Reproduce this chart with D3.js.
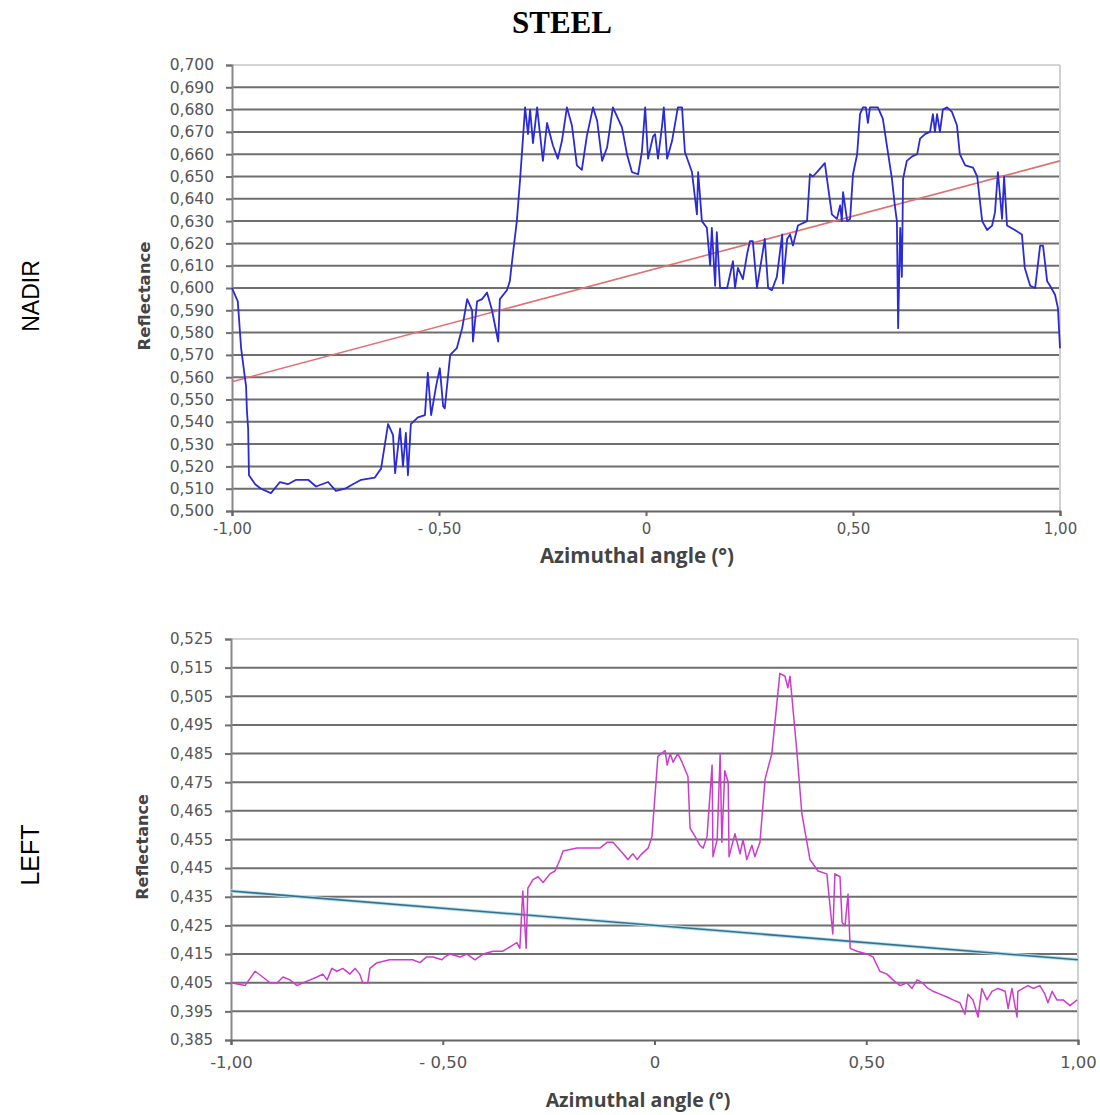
<!DOCTYPE html>
<html>
<head>
<meta charset="utf-8">
<script src="https://cdn.jsdelivr.net/npm/d3@7"></script>
<style>
  body { margin: 0; background: #fff; }
  svg { display: block; }
</style>
</head>
<body>
<svg id="chart" width="1100" height="1115"></svg>
<script>
// NADIR series: [azimuthal angle, reflectance]
const nadirSeries = [
  [-1.000,0.600],[-0.986,0.594],[-0.978,0.573],[-0.969,0.560],[-0.966,0.556],[-0.964,0.545],[-0.961,0.537],[-0.959,0.516],
  [-0.944,0.512],[-0.930,0.510],[-0.906,0.508],[-0.884,0.513],[-0.865,0.512],[-0.845,0.514],[-0.816,0.514],[-0.797,0.511],
  [-0.768,0.513],[-0.749,0.509],[-0.727,0.510],[-0.708,0.512],[-0.688,0.514],[-0.655,0.515],[-0.640,0.519],[-0.623,0.539],
  [-0.611,0.534],[-0.606,0.517],[-0.594,0.537],[-0.587,0.520],[-0.580,0.535],[-0.575,0.516],[-0.568,0.539],[-0.551,0.542],
  [-0.534,0.543],[-0.527,0.562],[-0.519,0.543],[-0.507,0.556],[-0.498,0.564],[-0.490,0.547],[-0.486,0.546],[-0.473,0.570],
  [-0.457,0.573],[-0.444,0.582],[-0.432,0.595],[-0.420,0.590],[-0.418,0.576],[-0.408,0.594],[-0.396,0.595],[-0.384,0.598],
  [-0.372,0.590],[-0.357,0.576],[-0.353,0.595],[-0.336,0.599],[-0.329,0.603],[-0.321,0.616],[-0.312,0.630],[-0.304,0.649],
  [-0.292,0.681],[-0.285,0.669],[-0.280,0.680],[-0.273,0.665],[-0.263,0.681],[-0.256,0.669],[-0.249,0.657],[-0.239,0.674],
  [-0.225,0.664],[-0.213,0.658],[-0.203,0.666],[-0.191,0.681],[-0.179,0.673],[-0.167,0.655],[-0.155,0.653],[-0.143,0.668],
  [-0.128,0.681],[-0.118,0.675],[-0.106,0.657],[-0.094,0.663],[-0.080,0.681],[-0.058,0.672],[-0.046,0.660],[-0.034,0.652],
  [-0.019,0.651],[-0.010,0.661],[-0.002,0.681],[0.005,0.658],[0.017,0.668],[0.022,0.669],[0.029,0.658],[0.039,0.673],
  [0.043,0.681],[0.051,0.658],[0.063,0.666],[0.077,0.681],[0.087,0.681],[0.094,0.661],[0.111,0.652],[0.123,0.633],
  [0.126,0.652],[0.135,0.630],[0.147,0.627],[0.155,0.610],[0.159,0.627],[0.167,0.601],[0.171,0.625],[0.179,0.600],
  [0.196,0.600],[0.210,0.612],[0.215,0.600],[0.222,0.609],[0.234,0.604],[0.244,0.615],[0.251,0.621],[0.258,0.621],
  [0.268,0.600],[0.287,0.622],[0.295,0.600],[0.304,0.599],[0.316,0.605],[0.329,0.624],[0.331,0.602],[0.341,0.622],
  [0.348,0.624],[0.355,0.619],[0.367,0.628],[0.389,0.630],[0.396,0.651],[0.403,0.650],[0.413,0.652],[0.432,0.656],
  [0.440,0.645],[0.449,0.633],[0.461,0.631],[0.469,0.637],[0.473,0.630],[0.476,0.643],[0.486,0.630],[0.493,0.631],
  [0.500,0.651],[0.510,0.660],[0.517,0.678],[0.524,0.681],[0.531,0.681],[0.536,0.674],[0.541,0.681],[0.560,0.681],
  [0.572,0.676],[0.585,0.660],[0.594,0.649],[0.601,0.637],[0.606,0.630],[0.609,0.582],[0.614,0.627],[0.618,0.605],
  [0.621,0.649],[0.630,0.657],[0.643,0.659],[0.655,0.660],[0.662,0.667],[0.674,0.669],[0.686,0.670],[0.693,0.678],
  [0.698,0.670],[0.703,0.678],[0.710,0.670],[0.717,0.680],[0.727,0.681],[0.739,0.679],[0.751,0.673],[0.758,0.660],
  [0.771,0.655],[0.790,0.654],[0.800,0.650],[0.812,0.630],[0.824,0.626],[0.836,0.628],[0.843,0.634],[0.850,0.652],
  [0.860,0.631],[0.865,0.650],[0.872,0.628],[0.891,0.626],[0.908,0.624],[0.915,0.609],[0.928,0.601],[0.940,0.600],
  [0.952,0.619],[0.959,0.619],[0.969,0.603],[0.976,0.601],[0.988,0.597],[0.995,0.591],[1.000,0.573]
];
const nadirTrend = [[-1.0, 0.558], [1.0, 0.657]];

// LEFT series: [azimuthal angle, reflectance]
const leftSeries = [
  [-1.000,0.405],[-0.967,0.404],[-0.943,0.409],[-0.925,0.407],[-0.908,0.405],[-0.891,0.405],[-0.877,0.407],[-0.861,0.406],
  [-0.844,0.404],[-0.830,0.405],[-0.813,0.406],[-0.797,0.407],[-0.783,0.408],[-0.773,0.406],[-0.762,0.410],[-0.750,0.409],
  [-0.736,0.410],[-0.719,0.408],[-0.707,0.410],[-0.696,0.408],[-0.689,0.405],[-0.677,0.405],[-0.672,0.410],[-0.655,0.412],
  [-0.625,0.413],[-0.594,0.413],[-0.571,0.413],[-0.554,0.412],[-0.538,0.414],[-0.523,0.414],[-0.502,0.413],[-0.495,0.414],
  [-0.483,0.415],[-0.459,0.414],[-0.443,0.415],[-0.424,0.413],[-0.405,0.415],[-0.381,0.416],[-0.358,0.416],[-0.325,0.419],
  [-0.318,0.417],[-0.311,0.437],[-0.303,0.417],[-0.299,0.438],[-0.287,0.441],[-0.275,0.442],[-0.263,0.440],[-0.247,0.443],
  [-0.235,0.444],[-0.223,0.448],[-0.216,0.451],[-0.183,0.452],[-0.152,0.452],[-0.129,0.452],[-0.112,0.454],[-0.098,0.454],
  [-0.086,0.452],[-0.074,0.450],[-0.063,0.448],[-0.051,0.450],[-0.041,0.448],[-0.030,0.450],[-0.015,0.452],[-0.006,0.456],
  [0.001,0.470],[0.008,0.484],[0.025,0.486],[0.030,0.481],[0.037,0.485],[0.044,0.482],[0.055,0.485],[0.065,0.482],
  [0.079,0.477],[0.084,0.459],[0.096,0.456],[0.107,0.453],[0.115,0.452],[0.124,0.456],[0.136,0.481],[0.138,0.449],
  [0.148,0.455],[0.155,0.485],[0.159,0.454],[0.166,0.479],[0.174,0.475],[0.176,0.449],[0.190,0.457],[0.202,0.450],
  [0.209,0.455],[0.218,0.448],[0.230,0.453],[0.237,0.449],[0.249,0.454],[0.261,0.476],[0.277,0.485],[0.296,0.513],
  [0.308,0.512],[0.315,0.508],[0.320,0.512],[0.336,0.486],[0.348,0.464],[0.360,0.454],[0.367,0.448],[0.386,0.444],
  [0.407,0.443],[0.421,0.422],[0.426,0.443],[0.438,0.442],[0.443,0.426],[0.450,0.425],[0.457,0.436],[0.462,0.417],
  [0.478,0.416],[0.502,0.415],[0.516,0.414],[0.532,0.409],[0.549,0.408],[0.563,0.406],[0.580,0.404],[0.596,0.405],
  [0.608,0.403],[0.620,0.406],[0.632,0.405],[0.646,0.403],[0.658,0.402],[0.674,0.401],[0.691,0.400],[0.705,0.399],
  [0.721,0.398],[0.733,0.394],[0.740,0.401],[0.752,0.399],[0.764,0.393],[0.773,0.403],[0.785,0.399],[0.797,0.402],
  [0.811,0.403],[0.828,0.402],[0.835,0.396],[0.844,0.403],[0.856,0.393],[0.858,0.402],[0.870,0.403],[0.882,0.404],
  [0.894,0.403],[0.910,0.404],[0.922,0.401],[0.929,0.398],[0.939,0.402],[0.950,0.399],[0.965,0.399],[0.981,0.397],
  [0.998,0.399]
];
const leftTrend = [[-1.0, 0.437], [1.0, 0.413]];

const xTickValues = [-1, -0.5, 0, 0.5, 1];
const xTickLabels = ["-1,00", "- 0,50", "0", "0,50", "1,00"];
const nadirYTicks = d3.range(0, 21).map(i => +(0.5 + i * 0.01).toFixed(3));
const leftYTicks = d3.range(0, 15).map(i => +(0.385 + i * 0.01).toFixed(3));

const svg = d3.select("#chart");
svg.append("rect").attr("width", 1100).attr("height", 1115).attr("fill", "#fff");

const commaFmt = v => d3.format(".3f")(v).replace(".", ",");

function drawPanel(opt) {
  const x = d3.scaleLinear().domain([-1, 1]).range([opt.left, opt.right]);
  const y = d3.scaleLinear().domain(opt.yDomain).range([opt.bottom, opt.top]);
  const g = svg.append("g");

  // gridlines
  g.selectAll("line.grid")
    .data(opt.yTicks.slice(1))
    .join("line")
      .attr("x1", opt.left).attr("x2", opt.right)
      .attr("y1", d => y(d)).attr("y2", d => y(d))
      .attr("stroke", (d, i) => i === opt.yTicks.length - 2 ? "#d4d4d4" : "#6e6e6e")
      .attr("stroke-width", 2);

  // right border
  g.append("line")
    .attr("x1", opt.right).attr("x2", opt.right)
    .attr("y1", opt.top).attr("y2", opt.bottom)
    .attr("stroke", "#d0d0d0").attr("stroke-width", 2);

  // y axis
  const yAxis = g.append("g")
    .attr("transform", `translate(${opt.left},0)`)
    .call(d3.axisLeft(y).tickValues(opt.yTicks).tickFormat(commaFmt).tickSize(6).tickPadding(12));
  yAxis.select(".domain").attr("stroke", "#888").attr("stroke-width", 2);
  yAxis.selectAll(".tick line").attr("stroke", "#6e6e6e").attr("stroke-width", 2);
  yAxis.selectAll("text")
    .attr("font-family", "DejaVu Sans, sans-serif")
    .attr("font-size", opt.yFont).attr("fill", "#555");

  // x axis
  const xAxis = g.append("g")
    .attr("transform", `translate(0,${opt.bottom})`)
    .call(d3.axisBottom(x).tickValues(xTickValues)
      .tickFormat((d, i) => xTickLabels[i]).tickSize(5).tickPadding(opt.xPad));
  xAxis.select(".domain").attr("stroke", "#666").attr("stroke-width", 2);
  xAxis.selectAll(".tick line").attr("stroke", "#666").attr("stroke-width", 2);
  xAxis.selectAll("text")
    .attr("font-family", "DejaVu Sans, sans-serif")
    .attr("font-size", opt.xFont).attr("fill", "#555");

  const line = d3.line().x(d => x(d[0])).y(d => y(d[1]));

  // trend line
  if (opt.trendHalo) {
    g.append("path").datum(opt.trend)
      .attr("d", line).attr("fill", "none")
      .attr("stroke", opt.trendHalo).attr("stroke-width", 3.5);
  }
  g.append("path").datum(opt.trend)
    .attr("d", line).attr("fill", "none")
    .attr("stroke", opt.trendColor).attr("stroke-width", opt.trendWidth);

  // data series
  g.append("path").datum(opt.series)
    .attr("d", line).attr("fill", "none")
    .attr("stroke", opt.color).attr("stroke-width", opt.lineWidth)
    .attr("stroke-linejoin", "round");

  // axis titles
  g.append("text")
    .attr("transform", `translate(${opt.yTitleX},${opt.yTitleY}) rotate(-90)`)
    .attr("text-anchor", "middle")
    .attr("font-family", "DejaVu Sans, sans-serif")
    .attr("font-weight", "bold").attr("font-size", opt.yTitleSize).attr("fill", "#444")
    .text("Reflectance");
  g.append("text")
    .attr("x", opt.xTitleX).attr("y", opt.xTitleY)
    .attr("text-anchor", "middle")
    .attr("font-family", "Open Sans, Liberation Sans, sans-serif")
    .attr("font-weight", "bold").attr("font-size", opt.xTitleSize).attr("fill", "#444")
    .text("Azimuthal angle (°)");

  // panel label
  svg.append("text")
    .attr("transform", `translate(39,${opt.labelY}) rotate(-90)`)
    .attr("text-anchor", "middle")
    .attr("font-family", "Liberation Sans, Arial, sans-serif")
    .attr("font-size", opt.labelSize).attr("fill", "#000")
    .text(opt.label);
}

svg.append("text")
  .attr("x", 562).attr("y", 33)
  .attr("text-anchor", "middle")
  .attr("font-family", "Liberation Serif, Times New Roman, serif")
  .attr("font-weight", "bold").attr("font-size", 31).attr("fill", "#000")
  .text("STEEL");

drawPanel({
  left: 232, right: 1060, top: 65, bottom: 511,
  yDomain: [0.5, 0.7], yTicks: nadirYTicks, yFont: 15.5, xFont: 15, xPad: 7,
  series: nadirSeries, color: "#2b2bd6", lineWidth: 1.8,
  trend: nadirTrend, trendColor: "#e07070", trendWidth: 1.6,
  yTitleX: 150, yTitleY: 296, yTitleSize: 16.5,
  xTitleX: 637, xTitleY: 563, xTitleSize: 20.5,
  label: "NADIR", labelY: 296, labelSize: 23
});

drawPanel({
  left: 231, right: 1078, top: 639, bottom: 1040,
  yDomain: [0.385, 0.525], yTicks: leftYTicks, yFont: 15, xFont: 16.5, xPad: 11,
  series: leftSeries, color: "#cc3ccc", lineWidth: 1.5,
  trend: leftTrend, trendColor: "#3a6f8a", trendWidth: 1.6, trendHalo: "#b5e0ef",
  yTitleX: 148, yTitleY: 847, yTitleSize: 16,
  xTitleX: 638, xTitleY: 1107, xTitleSize: 19.5,
  label: "LEFT", labelY: 855, labelSize: 25
});
</script>
</body>
</html>
